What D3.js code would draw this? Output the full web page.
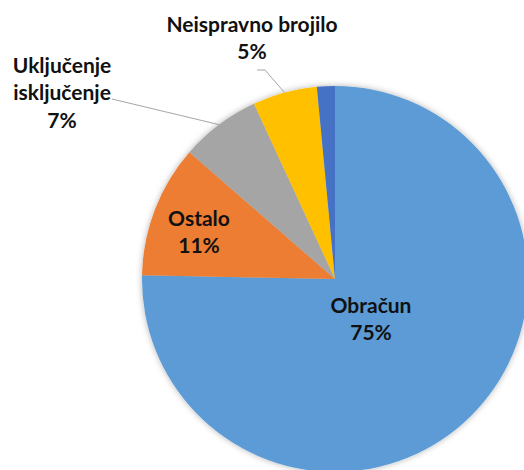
<!DOCTYPE html>
<html>
<head>
<meta charset="utf-8">
<script src="https://cdn.jsdelivr.net/npm/d3@7"></script>
<style>
  body { margin: 0; background: #fff; }
  svg text { font-family: Lato, "Open Sans", sans-serif; font-weight: bold; fill: #111; }
</style>
</head>
<body>
<svg id="chart" width="524" height="470"></svg>
<script>
const categories = ['Obračun', 'Ostalo', 'Uključenje isključenje', 'Neispravno brojilo', ''];
const values = [75.3, 11.1, 6.7, 5.4, 1.5];
const percentLabels = ['75%', '11%', '7%', '5%', ''];
const colors = ['#5B9BD5', '#ED7D31', '#A5A5A5', '#FFC000', '#4472C4'];

window.onload = function() {
    drawPie();
};

function drawPie() {
    let svg = d3.select('#chart');
    let cx = 335, cy = 279, radius = 193;

    let defs = svg.append('defs');
    let filter = defs.append('filter').attr('id', 'shadow')
        .attr('x', '-10%').attr('y', '-10%').attr('width', '120%').attr('height', '120%');
    filter.append('feDropShadow')
        .attr('dx', 0).attr('dy', 0)
        .attr('stdDeviation', 3)
        .attr('flood-color', '#000')
        .attr('flood-opacity', 0.3);

    let pie = d3.pie().sort(null).value(d => d);
    let arc = d3.arc().innerRadius(0).outerRadius(radius);
    let arcs = pie(values);

    let g = svg.append('g').attr('transform', `translate(${cx},${cy})`);

    g.append('g').attr('filter', 'url(#shadow)')
        .selectAll('path')
        .data(arcs)
        .enter().append('path')
        .attr('d', arc)
        .attr('fill', (d, i) => colors[i]);

    // label block centres relative to the pie centre, outside ones get a leader line
    let layout = [
        { x: 36, y: 40 },
        { x: -136, y: -47 },
        { x: -273, y: -186, lineFrom: [-223, -180] },
        { x: -83, y: -241, lineFrom: [-78, -209], bend: [-70, -209] }
    ];
    let lineH = 27.5;

    arcs.forEach((d, i) => {
        let L = layout[i];
        if (!L) return;
        let mid = (d.startAngle + d.endAngle) / 2;
        let lines = i === 2 ? categories[i].split(' ') : [categories[i]];
        lines.push(percentLabels[i]);

        if (L.lineFrom) {
            let edge = [Math.sin(mid) * radius, -Math.cos(mid) * radius];
            let pts = [L.lineFrom];
            if (L.bend) pts.push(L.bend);
            pts.push(edge);
            g.append('path')
                .attr('d', d3.line()(pts))
                .attr('fill', 'none')
                .attr('stroke', '#A6A6A6')
                .attr('stroke-width', 1);
        }

        let top = L.y - (lines.length - 1) * lineH / 2;
        let t = g.append('text')
            .attr('text-anchor', 'middle')
            .attr('font-size', '21px');
        lines.forEach((s, k) => {
            t.append('tspan')
                .attr('x', L.x)
                .attr('y', top + k * lineH)
                .attr('dy', '0.35em')
                .text(s);
        });
    });
}
</script>
</body>
</html>
